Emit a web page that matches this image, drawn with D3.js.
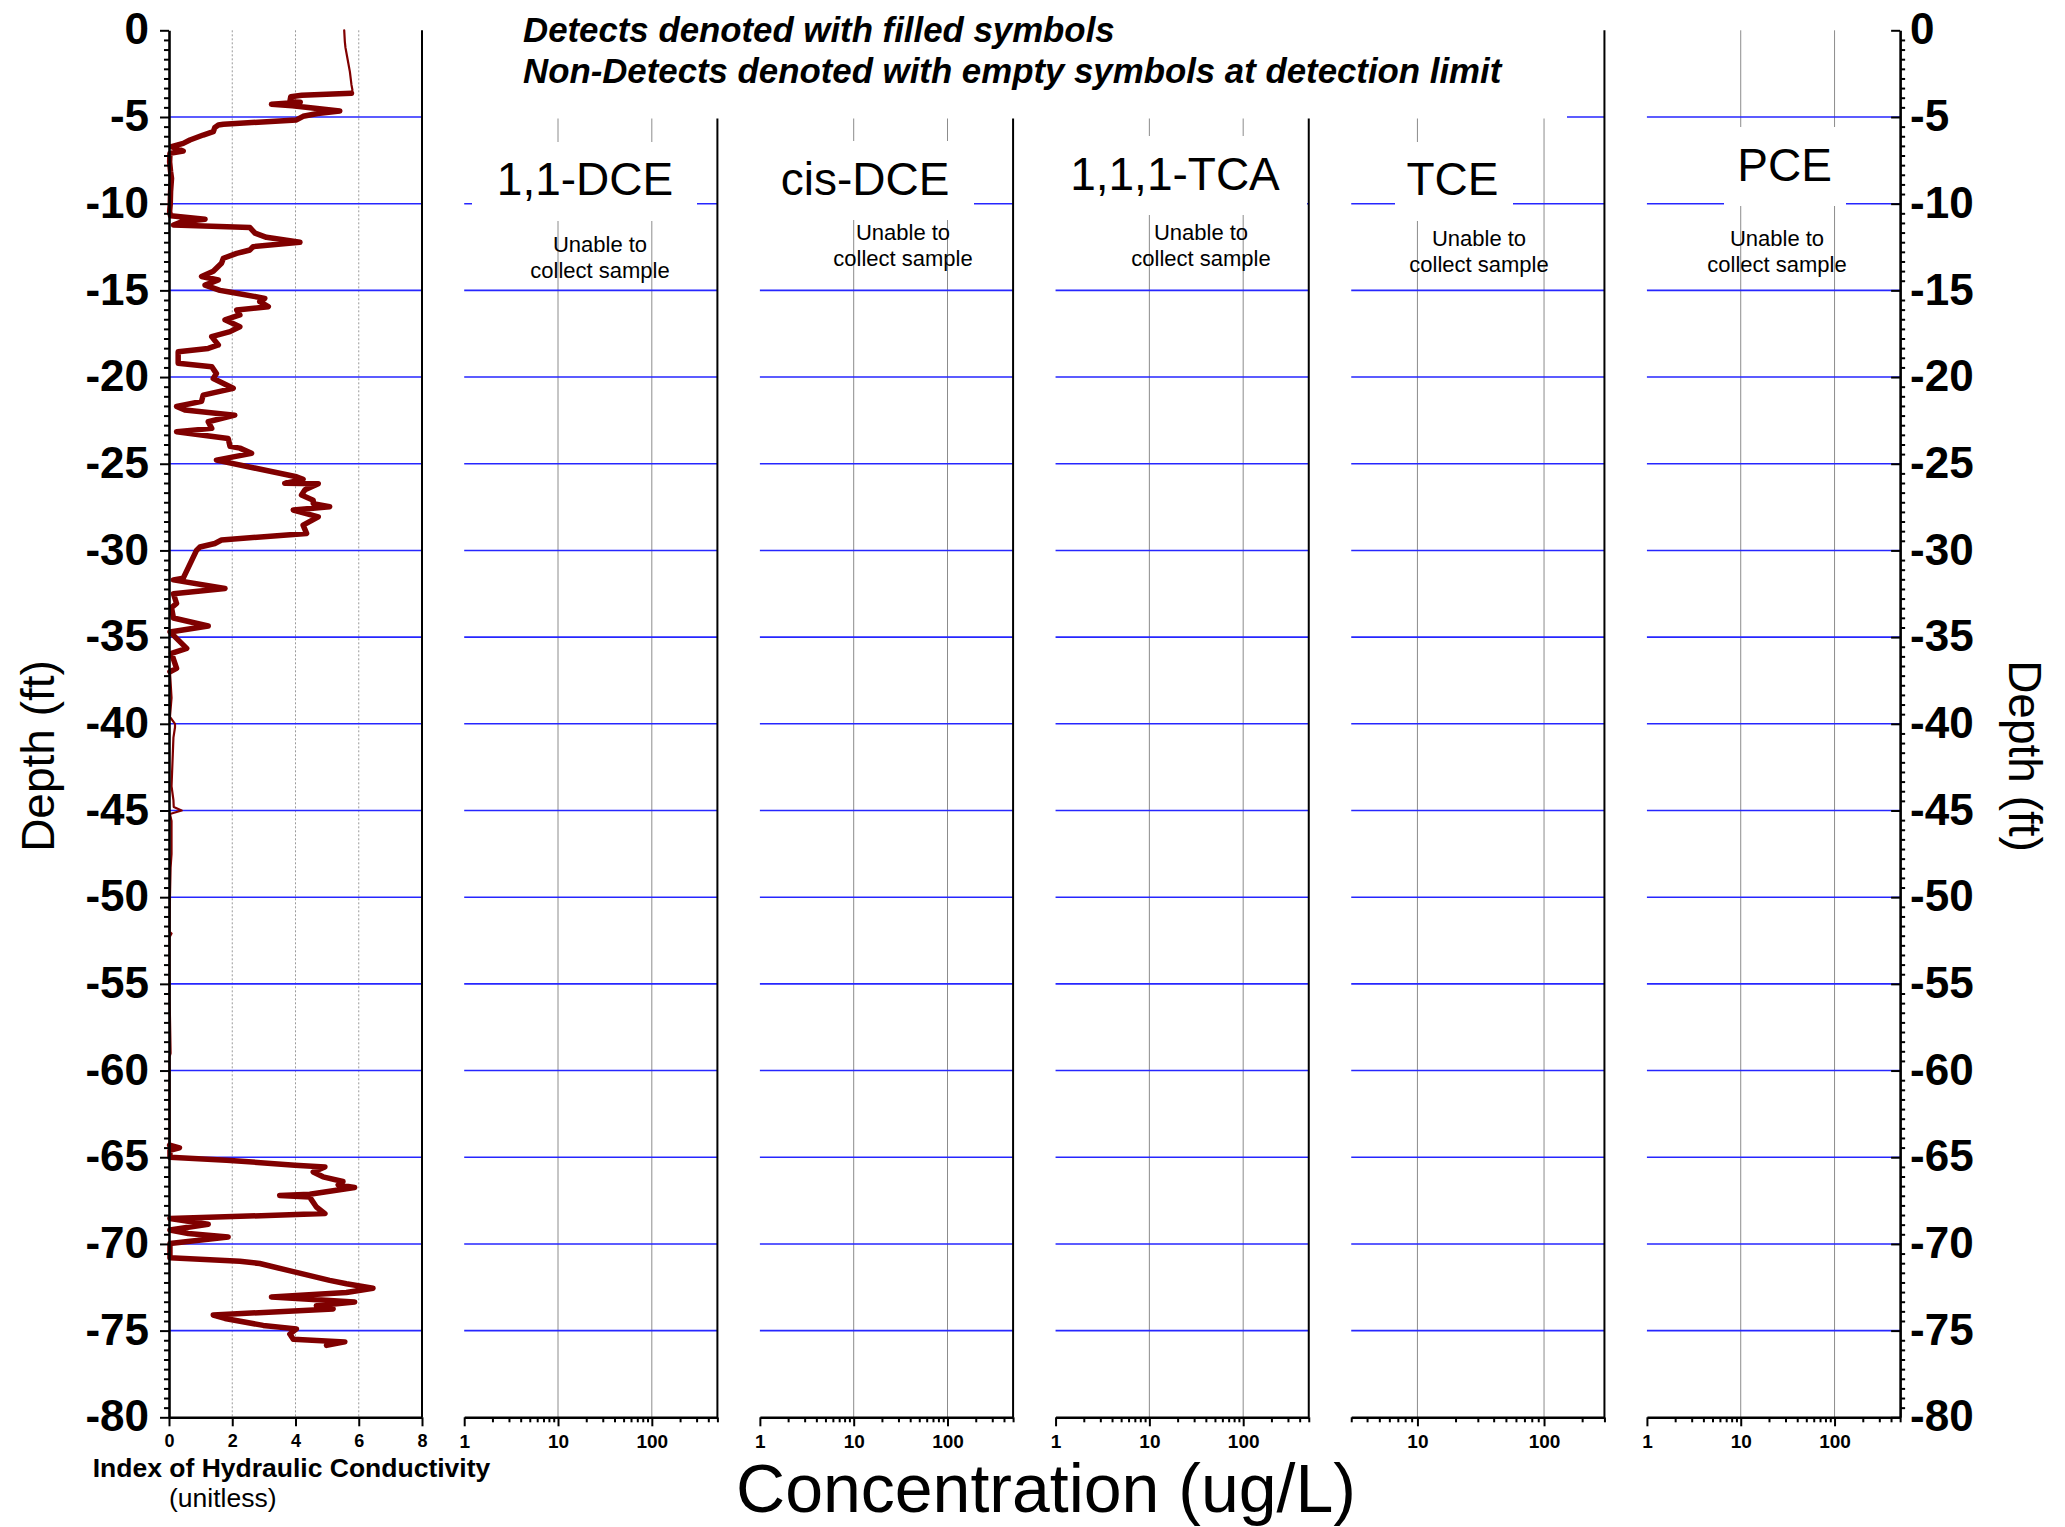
<!DOCTYPE html>
<html><head><meta charset="utf-8">
<script src="https://cdn.jsdelivr.net/npm/d3@7"></script>
<style>
body{margin:0;background:#fff}
svg{display:block}
text{font-family:"Liberation Sans",Arial,Helvetica,sans-serif}
</style>
</head><body>
<svg id="chart" width="2065" height="1527"></svg>
<script>
// ---------------- DATA ----------------
const depthMajorTicks = [0,-5,-10,-15,-20,-25,-30,-35,-40,-45,-50,-55,-60,-65,-70,-75,-80];
const depthGridLines = [-5,-10,-15,-20,-25,-30,-35,-40,-45,-50,-55,-60,-65,-70,-75];
const hcTicks = [0,2,4,6,8];
const hcGrid = [2,4,6];
const compounds = ["1,1-DCE","cis-DCE","1,1,1-TCA","TCE","PCE"];
const concMin = [1,1,1,3,1];
const concMax = [500,500,500,300,500];
const concTickLabels = [[1,10,100],[1,10,100],[1,10,100],[10,100],[1,10,100]];
const concGrid = [10,100];
const noteLines = ["Unable to","collect sample"];
const legendLines = ["Detects denoted with filled symbols","Non-Detects denoted with empty symbols at detection limit"];
const hcAxisTitle = "Index of Hydraulic Conductivity";
const hcAxisUnit = "(unitless)";
const concAxisTitle = "Concentration (ug/L)";
const depthTitle = "Depth (ft)";

// Hydraulic conductivity index profile (depth in ft below surface, index value)
const hcDepth = [
 0,0.65,1.0,1.6,2.4,3.15,3.44,3.63,
 3.75,3.83,4.12,4.15,4.27,4.35,4.65,4.8,4.96,5.17,5.42,5.46,5.6,5.85,6.04,6.33,6.52,6.71,6.96,7.1,7.6,8.15,8.54,9.3,10.0,10.46,10.7,10.9,11.05,11.23,11.38,11.7,11.94,12.23,12.48,12.67,12.87,13.15,13.44,13.9,14.2,14.4,14.7,15.0,15.08,15.46,15.65,15.94,16.13,16.42,16.7,17.1,17.38,17.67,18.15,18.35,18.54,19.2,19.4,19.8,20.08,20.65,21.04,21.4,21.7,21.9,22.2,22.58,22.96,23.15,23.54,24.0,24.1,24.4,24.79,25.75,25.9,26.13,26.15,26.5,26.8,27.1,27.3,27.48,27.67,28.06,28.54,29.02,29.4,29.6,29.8,30.0,31.6,31.7,32.2,32.5,33.06,33.3,33.9,34.36,34.7,35.65,35.94,36.8,37.0,
 38.5,39.6,40.0,40.2,40.8,41.75,43.6,44.4,44.8,45.0,45.2,45.6,47.5,48.3,50.0,52.0,52.1,52.3,55.85,59.0,59.2,64.3,
 64.46,64.6,65.0,65.17,65.46,65.56,65.85,66.13,66.4,66.6,66.75,67.13,67.2,67.3,67.87,68.25,68.54,68.87,69.2,69.4,69.6,69.98,70.8,71.0,71.13,71.6,72.1,72.3,72.56,72.8,73.06,73.35,73.56,73.75,74.1,74.3,74.7,74.9,75.2,75.5,75.65,75.85
];
const hcIndex = [
 5.54,5.56,5.58,5.64,5.72,5.77,5.80,5.77,
 4.2,3.85,3.82,4.15,3.24,3.9,5.40,4.7,4.24,4.03,1.72,1.56,1.45,1.40,1.08,0.66,0.45,0.08,0.45,0.03,0.02,0.05,0.08,0.05,0.04,0.02,0.05,1.14,0.4,0.14,2.56,2.72,3.08,4.14,2.66,2.56,2.14,1.72,1.66,1.40,1.03,1.56,1.14,1.61,1.87,3.03,2.87,3.14,2.14,2.24,1.77,2.24,1.93,1.35,1.56,1.24,0.29,0.29,1.35,1.50,1.40,2.03,1.08,1.03,0.24,0.5,2.08,1.24,1.35,0.24,1.87,1.93,2.24,2.61,1.50,4.03,4.24,3.66,4.72,4.3,4.19,4.56,4.56,5.08,3.93,4.72,4.24,4.35,1.66,1.45,0.98,0.87,0.45,0.14,1.77,0.14,0.24,0.08,0.14,1.24,0.03,0.56,0.08,0.24,0.03,
 0.08,0.03,0.19,0.19,0.14,0.12,0.08,0.14,0.15,0.40,0.03,0.08,0.08,0.05,0.03,0.02,0.08,0.02,0.02,0.05,0.02,0.02,
 0.33,0.03,0.03,1.82,3.98,4.93,4.56,4.87,5.50,5.35,5.87,4.45,3.50,4.45,4.66,4.93,0.03,1.24,0.03,0.61,1.87,0.03,0.03,2.24,2.87,3.93,5.08,5.61,6.45,5.61,3.24,5.87,4.66,5.19,1.40,1.77,2.98,4.03,3.82,3.93,5.56,4.98
];
// depth ranges drawn with a heavy line (rest drawn thin)
const hcHeavyRanges = [[3.63,37.0],[64.3,76]];
const hcThinRanges = [[0,3.63],[37.0,64.3]];

// ---------------- LAYOUT ----------------
const svg = d3.select("#chart");
const yTop = 30.3, yBot = 1417.3;
const y = d3.scaleLinear().domain([0,-80]).range([yTop,yBot]);
const hcX = d3.scaleLinear().domain([0,8]).range([169,422]);
const panelStart = 464.2, panelStride = 295.68, panelWidth = 253.2;
const concX = compounds.map((c,i)=> d3.scaleLog().domain([concMin[i],concMax[i]])
   .range([panelStart+i*panelStride, panelStart+i*panelStride+panelWidth]));

const BLUE = "#2626ff", RED = "#800000";

// grid: panel 0
const g0 = svg.append("g");
g0.selectAll("line.vg").data(hcGrid).join("line")
  .attr("x1",d=>hcX(d)).attr("x2",d=>hcX(d)).attr("y1",yTop).attr("y2",yBot)
  .attr("stroke","#9a9a9a").attr("stroke-width",1).attr("stroke-dasharray","2,2");
g0.selectAll("line.hg").data(depthGridLines).join("line")
  .attr("x1",hcX(0)).attr("x2",hcX(8)).attr("y1",d=>y(d)).attr("y2",d=>y(d))
  .attr("stroke",BLUE).attr("stroke-width",1.6);

// grid: concentration panels
concX.forEach((sx,i)=>{
  const g = svg.append("g");
  const [a,b] = sx.range();
  g.selectAll("line.vg").data(concGrid).join("line")
    .attr("x1",d=>sx(d)).attr("x2",d=>sx(d)).attr("y1",yTop).attr("y2",yBot)
    .attr("stroke","#8c8c8c").attr("stroke-width",1);
  g.selectAll("line.hg").data(depthGridLines).join("line")
    .attr("x1",a).attr("x2",b).attr("y1",d=>y(d)).attr("y2",d=>y(d))
    .attr("stroke",BLUE).attr("stroke-width",1.6);
});

// hydraulic conductivity curve
const hcPts = hcDepth.map((d,i)=>({d, v:hcIndex[i]}));
const line = d3.line().x(p=>hcX(p.v)).y(p=>y(-p.d));
function drawRanges(ranges, w){
  ranges.forEach(([lo,hi])=>{
    const pts = hcPts.filter(p=>p.d>=lo-1e-9 && p.d<=hi+1e-9);
    svg.append("path").attr("d",line(pts)).attr("fill","none")
      .attr("stroke",RED).attr("stroke-width",w)
      .attr("stroke-linejoin","round").attr("stroke-linecap","round");
  });
}
drawRanges(hcThinRanges, 2.2);
drawRanges(hcHeavyRanges, 5.5);

// panel right borders
svg.append("line").attr("x1",hcX(8)).attr("x2",hcX(8)).attr("y1",yTop).attr("y2",yBot)
  .attr("stroke","#000").attr("stroke-width",2);
concX.forEach((sx,i)=>{
  if(i===concX.length-1) return;
  const b = sx.range()[1];
  svg.append("line").attr("x1",b).attr("x2",b).attr("y1",yTop).attr("y2",yBot)
    .attr("stroke","#000").attr("stroke-width",2);
});

// legend box (white) and legend text
svg.append("rect").attr("x",440).attr("y",0).attr("width",1127).attr("height",118.5).attr("fill","#fff");
svg.selectAll("text.leg").data(legendLines).join("text")
  .attr("x",523).attr("y",(d,i)=>41.7+i*41.6)
  .attr("font-size",34.8).attr("font-weight","bold").attr("font-style","italic")
  .attr("fill","#000").text(d=>d);

// panel titles with white boxes
const titleBoxes = [[472,697,142,221],[755,974,141,220],[1052,1307,136,215],[1395,1513,142,221],[1724,1846,127,206]];
const titleCx = [585,865,1175,1452.5,1784.6];
const titleBase = [195,195,190,195,181];
compounds.forEach((c,i)=>{
  const [x0,x1,y0,y1] = titleBoxes[i];
  svg.append("rect").attr("x",x0).attr("y",y0).attr("width",x1-x0).attr("height",y1-y0).attr("fill","#fff");
  svg.append("text").attr("x",titleCx[i]).attr("y",titleBase[i]).attr("text-anchor","middle")
    .attr("font-size",46).attr("fill","#000").text(c);
});
// "Unable to collect sample" notes
const noteCx = [600,903,1201,1479,1777];
const noteBase = [252,240,240,246,246];
compounds.forEach((c,i)=>{
  svg.selectAll(null).data(noteLines).join("text")
    .attr("x",noteCx[i]).attr("y",(d,j)=>noteBase[i]+j*26).attr("text-anchor","middle")
    .attr("font-size",22).attr("fill","#000").text(d=>d);
});

// ---------------- AXES ----------------
const minorDepth = [];
for(let k=0;k<16;k++) for(let j=1;j<=8;j++) minorDepth.push(-5*k - j*5/9);

function styleAxis(g, w){
  g.select(".domain").attr("stroke","#000").attr("stroke-width",w);
  g.selectAll(".tick line").attr("stroke","#000").attr("stroke-width",2);
  g.attr("font-family",null);
}
// left depth axis
const la = svg.append("g").attr("transform",`translate(${hcX(0)},0)`)
  .call(d3.axisLeft(y).tickValues(depthMajorTicks).tickSizeInner(9).tickSizeOuter(0).tickPadding(11).tickFormat(d=>String(d)));
styleAxis(la, 2.6);
la.selectAll("text").attr("font-size",44).attr("font-weight","bold").attr("dy","0.31em")
  .attr("font-family","'Liberation Sans',Arial,sans-serif").attr("fill","#000");
const lam = svg.append("g").attr("transform",`translate(${hcX(0)},0)`)
  .call(d3.axisLeft(y).tickValues(minorDepth).tickSize(5).tickFormat(""));
lam.select(".domain").remove();
lam.selectAll(".tick line").attr("stroke","#000").attr("stroke-width",2);

// right depth axis
const rx = concX[concX.length-1].range()[1];
const ra = svg.append("g").attr("transform",`translate(${rx},0)`)
  .call(d3.axisRight(y).tickValues(depthMajorTicks).tickSizeInner(-9).tickSizeOuter(0).tickPadding(10).tickFormat(d=>String(d)));
styleAxis(ra, 2.6);
ra.selectAll("text").attr("font-size",44).attr("font-weight","bold").attr("dy","0.31em")
  .attr("font-family","'Liberation Sans',Arial,sans-serif").attr("fill","#000");
const ram = svg.append("g").attr("transform",`translate(${rx},0)`)
  .call(d3.axisRight(y).tickValues(minorDepth).tickSize(5).tickFormat(""));
ram.select(".domain").remove();
ram.selectAll(".tick line").attr("stroke","#000").attr("stroke-width",2);

// bottom axis: hydraulic conductivity
const ba = svg.append("g").attr("transform",`translate(0,${yBot})`)
  .call(d3.axisBottom(hcX).tickValues(hcTicks).tickSizeInner(9).tickSizeOuter(0).tickPadding(8).tickFormat(d=>String(d)));
styleAxis(ba, 2.4);
ba.selectAll("text").attr("font-size",18).attr("font-weight","bold")
  .attr("font-family","'Liberation Sans',Arial,sans-serif").attr("fill","#000");

// bottom axes: concentrations (log)
concX.forEach((sx,i)=>{
  const [lo,hi] = sx.domain();
  const minors = [];
  for(let dec=1; dec<=1000; dec*=10) for(let m=2;m<=9;m++){ const v=m*dec; if(v>=lo-1e-9 && v<=hi+1e-9) minors.push(v); }
  if(!concTickLabels[i].includes(lo) && !minors.includes(lo)) minors.push(lo);
  const g = svg.append("g").attr("transform",`translate(0,${yBot})`)
    .call(d3.axisBottom(sx).tickValues(concTickLabels[i]).tickSizeInner(9).tickSizeOuter(0).tickPadding(8).tickFormat(d=>String(d)));
  styleAxis(g, 2.4);
  g.selectAll("text").attr("font-size",19).attr("font-weight","bold")
    .attr("font-family","'Liberation Sans',Arial,sans-serif").attr("fill","#000");
  const gm = svg.append("g").attr("transform",`translate(0,${yBot})`)
    .call(d3.axisBottom(sx).tickValues(minors).tickSize(5).tickFormat(""));
  gm.select(".domain").remove();
  gm.selectAll(".tick line").attr("stroke","#000").attr("stroke-width",2);
});

// axis titles
svg.append("text").attr("transform","translate(54,756) rotate(-90)").attr("text-anchor","middle")
  .attr("font-size",46).attr("fill","#000").text(depthTitle);
svg.append("text").attr("transform","translate(2009,756) rotate(90)").attr("text-anchor","middle")
  .attr("font-size",46).attr("fill","#000").text(depthTitle);
svg.append("text").attr("x",291.5).attr("y",1477).attr("text-anchor","middle")
  .attr("font-size",26.5).attr("font-weight","bold").attr("fill","#000").text(hcAxisTitle);
svg.append("text").attr("x",169).attr("y",1507)
  .attr("font-size",26.5).attr("fill","#000").text(hcAxisUnit);
svg.append("text").attr("x",1046).attr("y",1512).attr("text-anchor","middle")
  .attr("font-size",68).attr("fill","#000").text(concAxisTitle);
</script>
</body></html>
